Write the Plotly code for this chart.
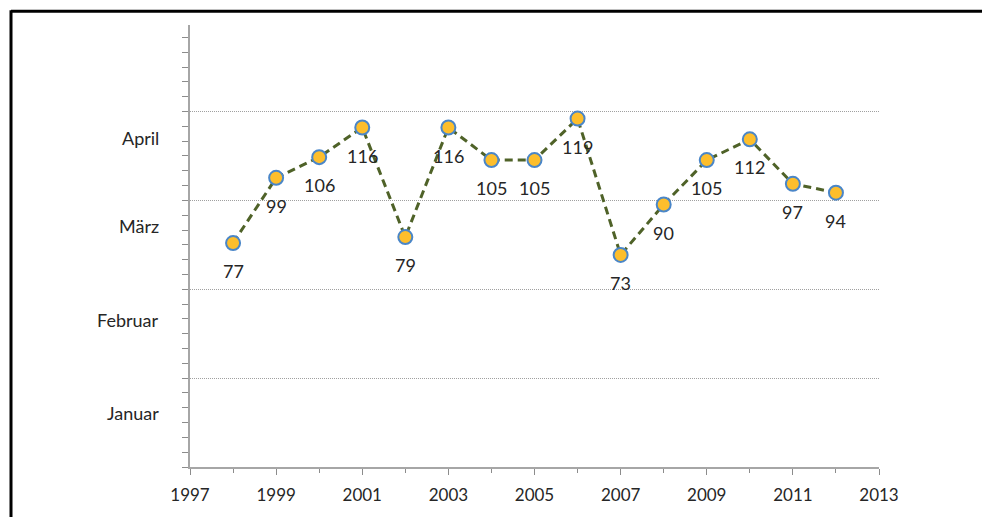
import plotly.graph_objects as go

# Day of year on which the event occurred, 1998-2012
years = [1998, 1999, 2000, 2001, 2002, 2003, 2004, 2005,
         2006, 2007, 2008, 2009, 2010, 2011, 2012]
day_of_year = [77, 99, 106, 116, 79, 116, 105, 105,
               119, 73, 90, 105, 112, 97, 94]

# Month names placed beside the day-of-year axis
month_names = ["Januar", "Februar", "März", "April"]
month_label_days = [19.5, 50.9, 82.7, 112.4]

x_ticks = [1997, 1999, 2001, 2003, 2005, 2007, 2009, 2011, 2013]

# Day axis: starts at 1 January, gridlines every 30 days
Y_MIN, Y_MAX = 1.4, 150.6

FONT = "Lato, 'Open Sans', sans-serif"
TEXT = "#262626"
AXIS = "#A6A6A6"

# Plot-area geometry in pixels (for placing the outer frame in paper units)
W, H = 982, 517
ML, MR, MT, MB = 190, 103, 25, 46
PW, PH = W - ML - MR, H - MT - MB


def px_x(px):
    return (px - ML) / PW


def px_y(py):
    return (H - MB - py) / PH


fig = go.Figure()

fig.add_trace(go.Scatter(
    x=years,
    y=day_of_year,
    mode="lines+markers",
    line=dict(color="#4F6228", width=3, dash="8px,5px"),
    marker=dict(size=14, color="#FDBE2C",
                line=dict(color="#4A86C8", width=2)),
    hoverinfo="x+y",
    showlegend=False,
))

# Value labels below each point
for x, y in zip(years, day_of_year):
    fig.add_annotation(
        x=x, y=y, xref="x", yref="y", text=str(y), showarrow=False,
        yshift=-28, font=dict(family=FONT, size=18, color=TEXT),
    )

# Month names to the left of the vertical axis
for name, d in zip(month_names, month_label_days):
    fig.add_annotation(
        x=px_x(161), y=d, xref="paper", yref="y", text=name,
        showarrow=False, xanchor="right", yanchor="middle",
        font=dict(family=FONT, size=18, color=TEXT),
    )

# Black frame along the top and left edges
fig.add_shape(type="line", xref="paper", yref="paper",
              x0=px_x(11), x1=px_x(W + 10), y0=px_y(11), y1=px_y(11),
              line=dict(color="black", width=3))
fig.add_shape(type="line", xref="paper", yref="paper",
              x0=px_x(11), x1=px_x(11), y0=px_y(10), y1=px_y(H + 10),
              line=dict(color="black", width=3))

fig.update_layout(
    width=W, height=H,
    margin=dict(l=ML, r=MR, t=MT, b=MB),
    paper_bgcolor="white",
    plot_bgcolor="white",
    font=dict(family=FONT, size=17, color=TEXT),
    xaxis=dict(
        range=[1997, 2013],
        tickvals=x_ticks,
        ticktext=[str(v) for v in x_ticks],
        ticks="outside", ticklen=6, tickcolor="#8C8C8C", tickwidth=1,
        ticklabelstandoff=6,
        minor=dict(dtick=1, tick0=1997, ticks="outside", ticklen=4,
                   tickcolor="#8C8C8C", tickwidth=1, showgrid=False),
        showline=True, linecolor=AXIS, linewidth=2,
        showgrid=False, zeroline=False,
        tickfont=dict(family=FONT, size=17, color=TEXT),
        fixedrange=True,
    ),
    yaxis=dict(
        range=[Y_MIN, Y_MAX],
        tick0=Y_MIN, dtick=30,
        showticklabels=False,
        ticks="outside", ticklen=6, tickcolor="#8C8C8C", tickwidth=1,
        minor=dict(dtick=5, tick0=Y_MIN, ticks="outside", ticklen=6,
                   tickcolor="#8C8C8C", tickwidth=1, showgrid=False),
        showline=True, linecolor=AXIS, linewidth=2,
        showgrid=True, gridcolor="#A0A0A0", gridwidth=1, griddash="1px,1px",
        zeroline=False,
        fixedrange=True,
    ),
)

fig.write_html("out.html")
